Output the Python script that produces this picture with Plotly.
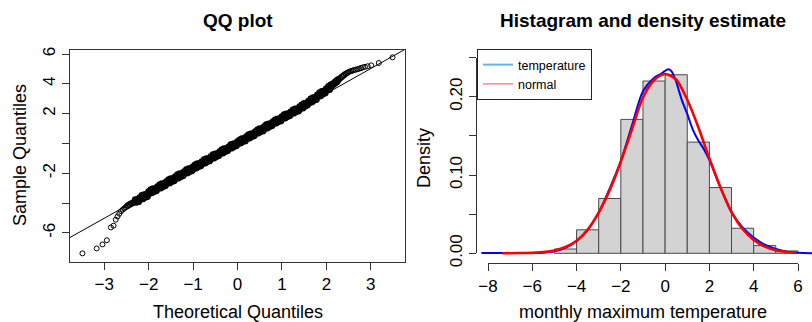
import plotly.graph_objects as go

W, H = 812, 322
FONT = "Liberation Sans, Arial, sans-serif"

# ---------------- QQ plot data ----------------
# lower tail (separate circles)
qq_low_theoretical = [-3.49, -3.17, -3.04, -2.94, -2.85, -2.79, -2.74, -2.70, -2.66, -2.62,
                      -2.58, -2.55, -2.52, -2.49, -2.47, -2.45, -2.43, -2.41, -2.39, -2.37,
                      -2.35, -2.33, -2.31]
qq_low_sample = [-7.38, -7.05, -6.78, -6.50, -5.64, -5.52, -5.12, -4.90, -4.72, -4.55,
                 -4.44, -4.36, -4.30, -4.18, -4.22, -4.10, -4.14, -4.03, -4.08, -3.97,
                 -4.02, -3.90, -3.95]
# dense central band
qq_band_theoretical = [
    -2.300, -2.275, -2.250, -2.225, -2.200, -2.175, -2.150, -2.125,
    -2.100, -2.075, -2.050, -2.025, -2.000, -1.975, -1.950, -1.925,
    -1.900, -1.875, -1.850, -1.825, -1.800, -1.775, -1.750, -1.725,
    -1.700, -1.675, -1.650, -1.625, -1.600, -1.575, -1.550, -1.525,
    -1.500, -1.475, -1.450, -1.425, -1.400, -1.375, -1.350, -1.325,
    -1.300, -1.275, -1.250, -1.225, -1.200, -1.175, -1.150, -1.125,
    -1.100, -1.075, -1.050, -1.025, -1.000, -0.975, -0.950, -0.925,
    -0.900, -0.875, -0.850, -0.825, -0.800, -0.775, -0.750, -0.725,
    -0.700, -0.675, -0.650, -0.625, -0.600, -0.575, -0.550, -0.525,
    -0.500, -0.475, -0.450, -0.425, -0.400, -0.375, -0.350, -0.325,
    -0.300, -0.275, -0.250, -0.225, -0.200, -0.175, -0.150, -0.125,
    -0.100, -0.075, -0.050, -0.025, 0.000, 0.025, 0.050, 0.075,
    0.100, 0.125, 0.150, 0.175, 0.200, 0.225, 0.250, 0.275,
    0.300, 0.325, 0.350, 0.375, 0.400, 0.425, 0.450, 0.475,
    0.500, 0.525, 0.550, 0.575, 0.600, 0.625, 0.650, 0.675,
    0.700, 0.725, 0.750, 0.775, 0.800, 0.825, 0.850, 0.875,
    0.900, 0.925, 0.950, 0.975, 1.000, 1.025, 1.050, 1.075,
    1.100, 1.125, 1.150, 1.175, 1.200, 1.225, 1.250, 1.275,
    1.300, 1.325, 1.350, 1.375, 1.400, 1.425, 1.450, 1.475,
    1.500, 1.525, 1.550, 1.575, 1.600, 1.625, 1.650, 1.675,
    1.700, 1.725, 1.750, 1.775, 1.800, 1.825, 1.850, 1.875,
    1.900, 1.925, 1.950, 1.975, 2.000, 2.025, 2.050, 2.075, 2.100,
    2.12, 2.14, 2.16, 2.18, 2.20, 2.22, 2.24, 2.26,
]
qq_band_sample = [
    -3.77, -3.95, -3.77, -3.91, -3.64, -3.73, -3.50, -3.72,
    -3.44, -3.62, -3.43, -3.57, -3.24, -3.34, -3.11, -3.32,
    -3.04, -3.22, -3.04, -3.18, -2.91, -3.00, -2.77, -2.99,
    -2.71, -2.89, -2.70, -2.84, -2.57, -2.67, -2.44, -2.65,
    -2.37, -2.55, -2.37, -2.51, -2.24, -2.33, -2.10, -2.32,
    -2.04, -2.22, -2.03, -2.17, -1.90, -2.00, -1.77, -1.98,
    -1.70, -1.88, -1.70, -1.84, -1.57, -1.66, -1.43, -1.65,
    -1.37, -1.55, -1.36, -1.50, -1.23, -1.33, -1.10, -1.31,
    -1.03, -1.21, -1.03, -1.17, -0.90, -0.99, -0.76, -0.98,
    -0.70, -0.88, -0.69, -0.83, -0.56, -0.66, -0.43, -0.64,
    -0.36, -0.54, -0.36, -0.50, -0.23, -0.32, -0.09, -0.31,
    -0.03, -0.21, -0.02, -0.16, 0.11, 0.01, 0.24, 0.03,
    0.31, 0.13, 0.31, 0.17, 0.45, 0.35, 0.58, 0.36,
    0.64, 0.46, 0.65, 0.51, 0.78, 0.68, 0.91, 0.70,
    0.98, 0.80, 0.98, 0.84, 1.12, 1.02, 1.25, 1.03,
    1.31, 1.13, 1.32, 1.18, 1.45, 1.35, 1.58, 1.37,
    1.65, 1.47, 1.65, 1.51, 1.79, 1.69, 1.92, 1.70,
    1.98, 1.80, 1.99, 1.85, 2.12, 2.02, 2.25, 2.04,
    2.32, 2.14, 2.32, 2.18, 2.46, 2.36, 2.59, 2.37,
    2.68, 2.51, 2.70, 2.57, 2.84, 2.75, 2.99, 2.78,
    3.07, 2.89, 3.08, 2.95, 3.26, 3.17, 3.41, 3.20,
    3.49, 3.32, 3.52, 3.39, 3.67, 3.58, 3.82, 3.62, 3.92,
    3.86, 3.98, 3.95, 4.08, 4.05, 4.18, 4.14, 4.27,
]
# upper tail (separate circles)
qq_high_theoretical = [2.28, 2.30, 2.32, 2.34, 2.36, 2.38, 2.40, 2.42, 2.44, 2.46, 2.48, 2.50,
                       2.53, 2.56, 2.59, 2.62, 2.66, 2.70, 2.74, 2.78, 2.82, 2.87, 2.93, 3.01,
                       3.18, 3.49]
qq_high_sample = [4.24, 4.38, 4.36, 4.49, 4.46, 4.58, 4.56, 4.66, 4.66, 4.73, 4.74, 4.79,
                  4.83, 4.86, 4.89, 4.92, 4.95, 4.98, 5.02, 5.06, 5.10, 5.14, 5.18, 5.24,
                  5.40, 5.78]
qq_line_intercept = 0.0
qq_line_slope = 1.675

qq_xrange = [-3.77, 3.77]
qq_yrange = [-7.96, 6.27]
qq_xticks = [-3, -2, -1, 0, 1, 2, 3]
qq_yticks = [-6, -4, -2, 0, 2, 4, 6]
qq_yticklabels = ["-6", "", "-2", "", "2", "4", "6"]

# ---------------- Histogram / density data ----------------
hist_bin_left = [-5, -4, -3, -2, -1, 0, 1, 2, 3, 4, 5]
hist_density = [0.0055, 0.030, 0.070, 0.171, 0.220, 0.228, 0.142, 0.084, 0.032, 0.0098, 0.003]

kde_x = [-8.3, -7.5, -7.0, -6.5, -6.0, -5.5, -5.0, -4.5, -4.0, -3.5, -3.0, -2.5, -2.0,
         -1.5, -1.0, -0.5, -0.2, 0.0, 0.15, 0.3, 0.5, 0.75, 1.0, 1.25, 1.5, 1.75,
         2.0, 2.5, 3.0, 3.5, 4.0, 4.5, 5.0, 5.5, 6.0, 6.64]
kde_y = [0.0003, 0.0004, 0.0005, 0.0004, 0.0004, 0.0008, 0.0025, 0.007, 0.0155, 0.030,
         0.052, 0.083, 0.118, 0.163, 0.207, 0.224, 0.229, 0.233, 0.235, 0.232, 0.219,
         0.196, 0.178, 0.158, 0.144, 0.133, 0.119, 0.084, 0.052, 0.033, 0.020, 0.011,
         0.0055, 0.002, 0.0007, 0.0002]

norm_x = [-7.35, -6.5, -6.0, -5.5, -5.0, -4.5, -4.0, -3.5, -3.0, -2.5, -2.0, -1.5, -1.0,
          -0.5, 0.0, 0.5, 1.0, 1.5, 2.0, 2.5, 3.0, 3.5, 4.0, 4.5, 5.0, 5.5, 5.9]
norm_y = [0.0001, 0.0003, 0.0006, 0.0015, 0.0036, 0.008, 0.016, 0.030, 0.052, 0.081,
          0.117, 0.158, 0.199, 0.221, 0.229, 0.222, 0.196, 0.161, 0.121, 0.084, 0.053,
          0.031, 0.017, 0.0085, 0.0038, 0.0016, 0.0008]

hist_xticks = [-8, -6, -4, -2, 0, 2, 4, 6]
hist_yticks = [0, 0.05, 0.10, 0.15, 0.20, 0.25]
hist_yticklabels = ["0.00", "", "0.10", "", "0.20", ""]
hist_data_xrange = [-8.542, 6.634]
hist_data_yrange = [-0.01277, 0.2609]
hist_axis_xrange = [-8, 6]
hist_axis_yrange = [0, 0.25]


def px_x(p):
    return p / W


def px_y(p):
    return 1 - p / H


AX = "#333333"
TICKFONT = dict(family=FONT, size=17, color="#000")

fig = go.Figure()

# QQ points: tails as thin open circles, dense band with heavier strokes
for xs, ys, lw in [(qq_low_theoretical, qq_low_sample, 1.0),
                   (qq_band_theoretical, qq_band_sample, 1.9),
                   (qq_high_theoretical, qq_high_sample, 1.0)]:
    fig.add_trace(go.Scatter(
        x=xs, y=ys, mode="markers", xaxis="x", yaxis="y",
        marker=dict(symbol="circle-open", size=5, color="#000",
                    line=dict(width=lw, color="#000")),
        showlegend=False, hoverinfo="skip"))
# QQ reference line (through intercept / slope over the axis range)
fig.add_trace(go.Scatter(
    x=qq_xrange, y=[qq_line_intercept + qq_line_slope * v for v in qq_xrange],
    mode="lines", xaxis="x", yaxis="y", line=dict(color="#000", width=1),
    showlegend=False, hoverinfo="skip"))

# Histogram
fig.add_trace(go.Bar(
    x=hist_bin_left, y=hist_density, width=1, offset=0, xaxis="x2", yaxis="y2",
    marker=dict(color="#d3d3d3", line=dict(color="#4a4a4a", width=1)),
    showlegend=False, hoverinfo="skip"))
fig.add_trace(go.Scatter(
    x=kde_x, y=kde_y, mode="lines", xaxis="x2", yaxis="y2",
    line=dict(color="#0000ff", width=2, shape="spline", smoothing=0.8),
    showlegend=False, hoverinfo="skip"))
fig.add_trace(go.Scatter(
    x=norm_x, y=norm_y, mode="lines", xaxis="x2", yaxis="y2",
    line=dict(color="#ff0000", width=2.6, shape="spline", smoothing=0.8),
    showlegend=False, hoverinfo="skip"))

# legend entries
fig.add_trace(go.Scatter(x=[None], y=[None], mode="lines", name="temperature",
                         xaxis="x2", yaxis="y2", line=dict(color="#62b3ee", width=2)))
fig.add_trace(go.Scatter(x=[None], y=[None], mode="lines", name="normal",
                         xaxis="x2", yaxis="y2", line=dict(color="#f28a99", width=1.5)))

# empty trace for the display-axis subplot
fig.add_trace(go.Scatter(x=[], y=[], mode="lines", xaxis="x3", yaxis="y3",
                         showlegend=False, hoverinfo="skip"))

common_axis = dict(showgrid=False, zeroline=False, showline=True, linecolor=AX,
                   linewidth=1, ticks="outside", ticklen=7, tickcolor=AX,
                   tickfont=TICKFONT, automargin=False, fixedrange=True)

fig.update_layout(
    width=W, height=H,
    margin=dict(l=0, r=0, t=0, b=0, pad=0),
    paper_bgcolor="white", plot_bgcolor="rgba(0,0,0,0)",
    font=dict(family=FONT, color="#000"),
    xaxis=dict(domain=[px_x(70), px_x(405)], range=qq_xrange, anchor="y",
               mirror=True, tickmode="array", tickvals=qq_xticks, **common_axis),
    yaxis=dict(domain=[px_y(262), px_y(50)], range=qq_yrange, anchor="x",
               mirror=True, tickmode="array", tickvals=qq_yticks,
               ticktext=qq_yticklabels, tickangle=-90, **common_axis),
    xaxis2=dict(domain=[px_x(476), 1.0], range=hist_data_xrange, anchor="y2",
                visible=False, fixedrange=True),
    yaxis2=dict(domain=[px_y(263.3), px_y(49)], range=hist_data_yrange, anchor="x2",
                visible=False, fixedrange=True),
    xaxis3=dict(domain=[px_x(488), px_x(798)], range=hist_axis_xrange, anchor="free",
                position=px_y(263.3), tickmode="array", tickvals=hist_xticks,
                **common_axis),
    yaxis3=dict(domain=[px_y(253.3), px_y(57.55)], range=hist_axis_yrange, anchor="free",
                position=px_x(476), tickmode="array", tickvals=hist_yticks,
                ticktext=hist_yticklabels, tickangle=-90, **common_axis),
    legend=dict(x=px_x(477), y=px_y(49), xanchor="left", yanchor="top",
                bgcolor="white", bordercolor="#222", borderwidth=1,
                font=dict(family=FONT, size=12.5, color="#000"),
                tracegroupgap=0, itemwidth=30),
    showlegend=True,
)

annotations = [
    dict(text="<b>QQ plot</b>", x=px_x(237.5), y=px_y(20), size=19, angle=0),
    dict(text="<b>Histagram and density estimate</b>", x=px_x(643), y=px_y(20), size=19, angle=0),
    dict(text="Theoretical Quantiles", x=px_x(237.5), y=px_y(312), size=18, angle=0),
    dict(text="monthly maximum temperature", x=px_x(643), y=px_y(312), size=18, angle=0),
    dict(text="Sample Quantiles", x=px_x(20), y=px_y(155), size=18, angle=-90),
    dict(text="Density", x=px_x(424), y=px_y(158), size=18, angle=-90),
]
fig.update_layout(annotations=[
    dict(text=a["text"], x=a["x"], y=a["y"], xref="paper", yref="paper",
         xanchor="center", yanchor="middle", showarrow=False, textangle=a["angle"],
         font=dict(family=FONT, size=a["size"], color="#000"))
    for a in annotations
])

fig.write_html("out.html", config={"displayModeBar": False, "staticPlot": True})
